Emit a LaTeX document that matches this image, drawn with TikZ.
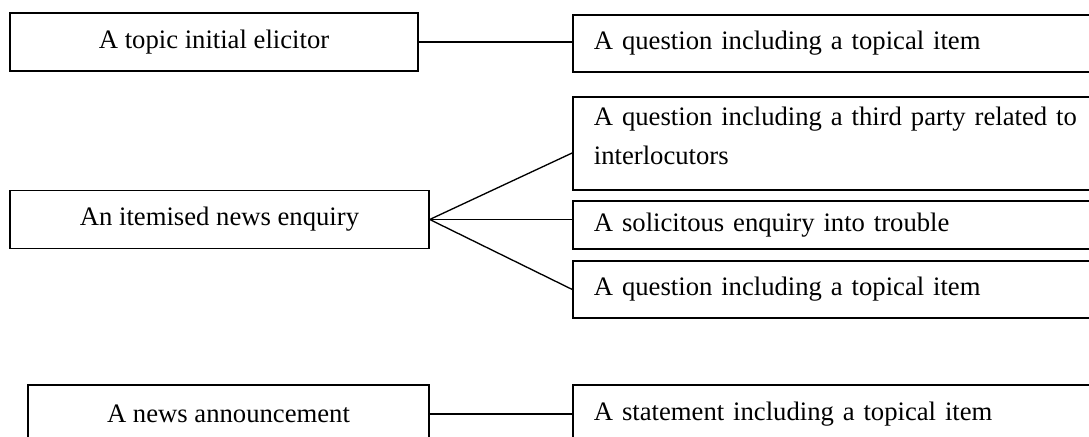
\documentclass[tikz,border=0pt]{standalone}
\usepackage{fontspec}
\setmainfont{Liberation Serif}
\usetikzlibrary{calc}

\begin{document}
\begin{tikzpicture}[x=0.45pt,y=-0.45pt,line width=0.6pt,
  font=\fontsize{12}{17.5}\selectfont,
  lbox/.style = {draw,rectangle,minimum width=#1,minimum height=26pt,inner sep=0pt,align=center},
  rbox/.style = {draw,rectangle,text width=222.8pt,inner xsep=9.45pt,inner ysep=0pt,minimum height=#1,align=left}]

\useasboundingbox (0,0) rectangle (1089,437);
\clip (0,0) rectangle (1089,437);

\node[lbox=183.6pt] (elicitor) at (214,42) {A topic initial elicitor};
\node[rbox=25.7pt] (topical1) at (841.5,43.5) {A question including a topical item};

\node[lbox=188.6pt] (enquiry) at (219.5,219.5) {An itemised news enquiry};
\node[rbox=41.9pt] (third) at (841.5,143.5) {A question including a third party related to\\interlocutors\\[-10.3pt]\mbox{}};
\node[rbox=21.6pt] (trouble) at (841.5,225) {A solicitous enquiry into trouble};
\node[rbox=25.7pt] (topical2) at (841.5,289.5) {A question including a topical item};

\node[lbox=180.5pt] (announce) at (228.5,414) {A news announcement};
\node[rbox=26.1pt] (statement) at (841.5,414) {A statement including a topical item};

\draw (elicitor.east) -- (elicitor.east -| topical1.west);
\draw (enquiry.east) -- ($(third.south west)!0.4!(third.north west)$);
\draw (enquiry.east) -- (enquiry.east -| trouble.west);
\draw (enquiry.east) -- (topical2.west);
\draw (announce.east) -- (announce.east -| statement.west);

\end{tikzpicture}
\end{document}
